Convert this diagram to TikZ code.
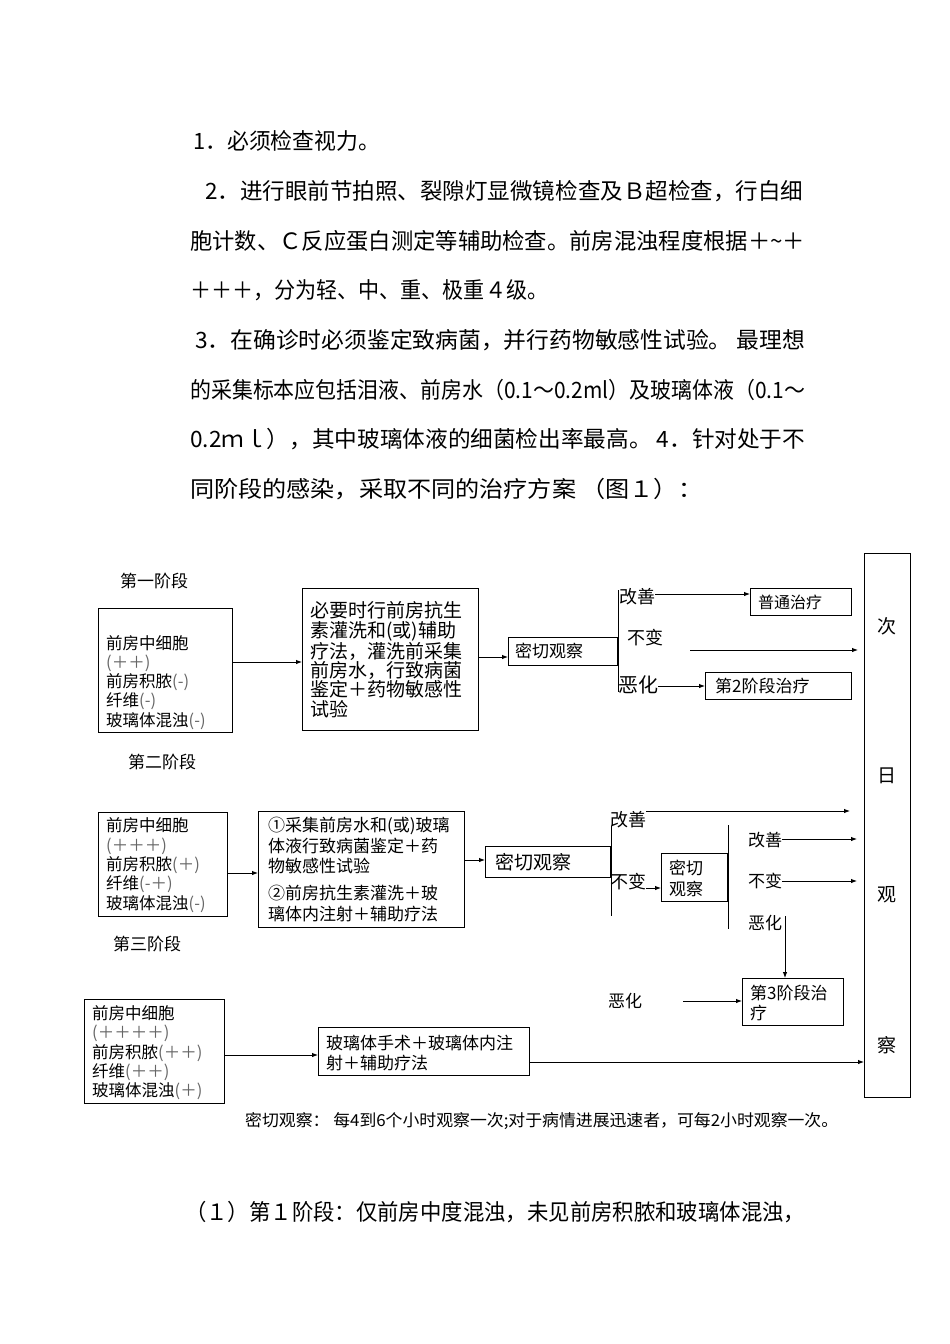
\documentclass[tikz,border=0pt]{standalone}
\usepackage{fontspec}
\usepackage{graphicx}
\setmainfont{Noto Sans CJK SC}
\usetikzlibrary{arrows.meta}
\newlength\mylw
\newcommand\fitline[2]{\settowidth\mylw{#2}\pgfmathsetmacro\myfac{#1/\mylw}\scalebox{\myfac}[1]{#2}}
\newcommand\gp[1]{\textcolor{black!60}{#1}}
\newcommand\fsz[2]{\fontsize{#1}{#2}\selectfont}
\begin{document}
\begin{tikzpicture}[x=1pt,y=-1pt,
  body/.style={font=\fsz{22.5}{27}, inner sep=0pt, anchor=west},
  box/.style={draw, line width=1pt, inner sep=0pt, anchor=north west},
  txt/.style={inner sep=0pt, align=left, anchor=north west},
  lab/.style={inner sep=0pt, anchor=west, font=\fsz{17}{20}},
  arr/.style={-{Latex[length=6pt,width=4.5pt]}, line width=0.9pt},
  ln/.style={line width=0.9pt}]
\useasboundingbox[fill=white] (0,0) rectangle (950,1344);

% ---- body text ----
\node[body] (l1) at (193,141) {\fitline{187pt}{1．必须检查视力。}};
\node[body] (l2) at (205,191) {\fitline{598pt}{2．进行眼前节拍照、裂隙灯显微镜检查及Ｂ超检查，行白细}};
\node[body] (l3) at (190,241) {\fitline{615pt}{胞计数、Ｃ反应蛋白测定等辅助检查。前房混浊程度根据＋\textasciitilde＋}};
\node[body] (l4) at (190,290) {\fitline{358pt}{＋＋＋，分为轻、中、重、极重４级。}};
\node[body] (l5) at (195,340) {\fitline{610pt}{3．在确诊时必须鉴定致病菌，并行药物敏感性试验。 最理想}};
\node[body] (l6) at (190,390) {\fitline{615pt}{的采集标本应包括泪液、前房水（0.1～0.2ml）及玻璃体液（0.1～}};
\node[body] (l7) at (190,439) {\fitline{615pt}{0.2ｍｌ），其中玻璃体液的细菌检出率最高。 4．针对处于不}};
\node[body] (l8) at (190,489) {\fitline{512pt}{同阶段的感染，采取不同的治疗方案 （图１）：}};
\node[body] (l9) at (185,1212) {\fitline{620pt}{（１）第１阶段：仅前房中度混浊，未见前房积脓和玻璃体混浊，}};

% ---- right observation box ----
\node[box, minimum width=46, minimum height=544] (obs) at (864,553) {};
\node[inner sep=0pt, font=\fsz{19}{22}] (o1) at (887,626) {次};
\node[inner sep=0pt, font=\fsz{19}{22}] (o2) at (887,776) {日};
\node[inner sep=0pt, font=\fsz{19}{22}] (o3) at (887,895) {观};
\node[inner sep=0pt, font=\fsz{19}{22}] (o4) at (887,1045) {察};

% ---- stage 1 ----
\node[lab] (s1) at (120,581) {第一阶段};
\node[box, minimum width=134, minimum height=124] (b1) at (98,608) {};
\node[txt, font=\fsz{16.5}{19.1}] (b1t) at (106,635.5) {前房中细胞\\\gp{(＋＋)}\\前房积脓\gp{(-)}\\纤维\gp{(-)}\\玻璃体混浊\gp{(-)}};
\node[box, minimum width=176, minimum height=142] (b2) at (302,588) {};
\node[txt, font=\fsz{19}{19.4}] (b2t) at (310,601.5) {必要时行前房抗生\\素灌洗和(或)辅助\\疗法，灌洗前采集\\前房水，行致病菌\\鉴定＋药物敏感性\\试验};
\node[box, minimum width=109, minimum height=28] (b3) at (508,637) {};
\node[lab] (b3t) at (515,651) {密切观察};
\draw[arr] (b1.east |- 0,662) -- (b2.west |- 0,662);
\draw[arr] (b2.east |- 0,657) -- (b3.west |- 0,657);
\draw[ln] (b3.east |- 0,590) -- (b3.east |- 0,692);
\node[lab, font=\fsz{18}{20}] (g1) at (619,597) {改善};
\node[box, minimum width=101, minimum height=27] (b4) at (750,588) {};
\node[lab, font=\fsz{16}{19}] (b4t) at (758,602) {普通治疗};
\draw[arr] (g1.east |- 0,594) -- (b4.west |- 0,594);
\node[lab, font=\fsz{18}{20}] (n1) at (627,638) {不变};
\coordinate (c1) at (690,650);
\draw[arr, shorten >=6pt] (c1) -- (obs.west |- c1);
\node[lab, font=\fsz{20}{22}] (e1) at (618,685) {恶化};
\node[box, minimum width=146, minimum height=27] (b5) at (705,672) {};
\node[lab] (b5t) at (715,686) {第2阶段治疗};
\draw[arr] (e1.east |- 0,686) -- (b5.west |- 0,686);

% ---- stage 2 ----
\node[lab] (s2) at (128,762) {第二阶段};
\node[box, minimum width=129, minimum height=104] (b6) at (98,812) {};
\node[txt, font=\fsz{16.5}{19.4}] (b6t) at (106,817.6) {前房中细胞\\\gp{(＋＋＋)}\\前房积脓\gp{(＋)}\\纤维\gp{(-＋)}\\玻璃体混浊\gp{(-)}};
\node[box, minimum width=206, minimum height=116] (b7) at (258,811) {};
\node[txt, font=\fsz{17}{20.5}] (b7t) at (268,817.3) {①采集前房水和(或)玻璃\\体液行致病菌鉴定＋药\\物敏感性试验};
\node[txt, font=\fsz{17}{20.5}] (b7u) at (268,885.3) {②前房抗生素灌洗＋玻\\璃体内注射＋辅助疗法};
\draw[arr] (b6.east |- 0,873) -- (b7.west |- 0,873);
\node[box, minimum width=125, minimum height=31] (b8) at (485,846) {};
\node[lab, font=\fsz{19}{21}] (b8t) at (495,862) {密切观察};
\draw[arr] (b7.east |- 0,860) -- (b8.west |- 0,860);
\draw[ln] (b8.east |- 0,826) -- (b8.east |- 0,916);
\node[lab, font=\fsz{18}{20}] (g2) at (610,820) {改善};
\draw[arr, shorten >=14pt] (g2.east |- 0,811) -- (obs.west |- 0,811);
\node[lab, font=\fsz{18}{20}] (n2) at (610,882) {不变};
\node[box, minimum width=66, minimum height=48] (b9) at (661,853) {};
\node[txt, font=\fsz{17}{21}] (b9t) at (669,859.4) {密切\\观察};
\draw[arr] (n2.east |- 0,888) -- (b9.west |- 0,888);
\draw[ln] (b9.east |- 0,825) -- (b9.east |- 0,929);
\node[lab] (g3) at (748,840) {改善};
\draw[arr, shorten >=7pt] (g3.east |- 0,839) -- (obs.west |- 0,839);
\node[lab] (n3) at (748,881) {不变};
\draw[arr, shorten >=7pt] (n3.east |- 0,881) -- (obs.west |- 0,881);
\node[lab] (e3) at (748,923) {恶化};
\node[box, minimum width=101, minimum height=47] (b10) at (742,978) {};
\node[txt, font=\fsz{17}{20}] (b10t) at (750,985.4) {第3阶段治\\疗};
\coordinate (v3) at (785,916);
\draw[arr] (v3) -- (v3 |- b10.north);
\node[lab] (e2) at (608,1001) {恶化};
\coordinate (c2) at (683,1001);
\draw[arr] (c2) -- (b10.west |- c2);

% ---- stage 3 ----
\node[lab] (s3) at (113,944) {第三阶段};
\node[box, minimum width=140, minimum height=104] (b11) at (84,999) {};
\node[txt, font=\fsz{16.5}{19.2}] (b11t) at (92,1005.6) {前房中细胞\\\gp{(＋＋＋＋)}\\前房积脓\gp{(＋＋)}\\纤维\gp{(＋＋)}\\玻璃体混浊\gp{(＋)}};
\node[box, minimum width=211, minimum height=48] (b12) at (318,1027) {};
\node[txt, font=\fsz{17}{20}] (b12t) at (326,1035.4) {玻璃体手术＋玻璃体内注\\射＋辅助疗法};
\draw[arr] (b11.east |- 0,1055) -- (b12.west |- 0,1055);
\draw[arr] (b12.east |- 0,1062) -- (obs.west |- 0,1062);

\node[lab, font=\fsz{16.5}{19}] (fn) at (245,1121) {\fitline{593pt}{密切观察： 每4到6个小时观察一次;对于病情进展迅速者，可每2小时观察一次。}};
\end{tikzpicture}
\end{document}
